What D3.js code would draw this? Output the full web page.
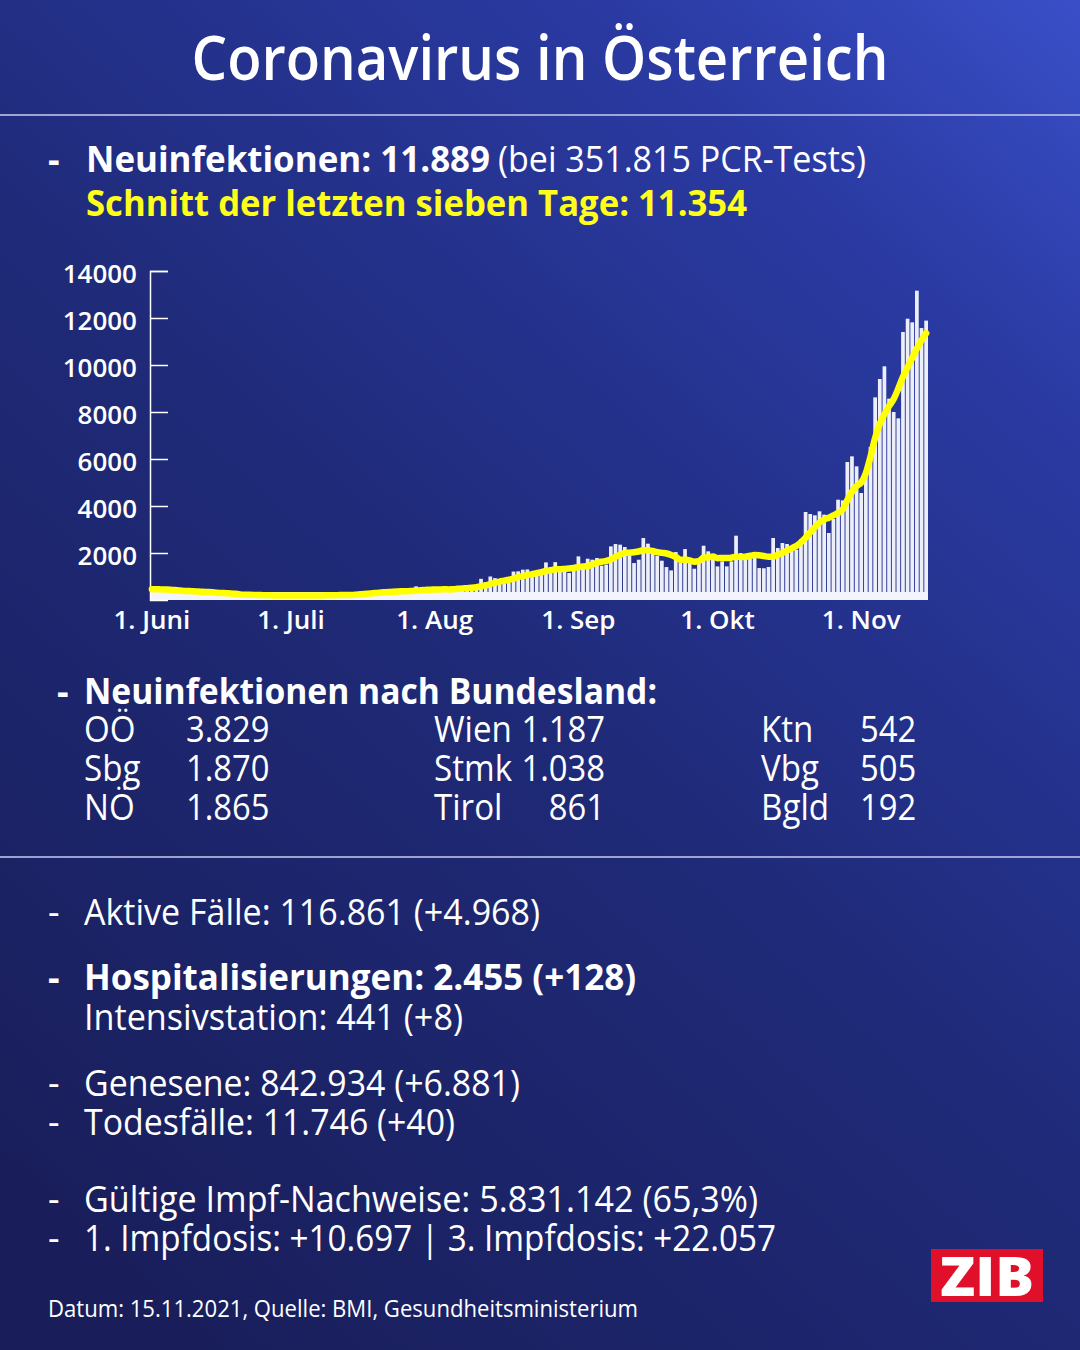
<!DOCTYPE html>
<html>
<head>
<meta charset="utf-8">
<script src="https://cdn.jsdelivr.net/npm/d3@7"></script>
<style>
  body { margin: 0; background: #1d2570; }
  svg { display: block; }
  text { font-family: "Open Sans", sans-serif; fill: #ffffff; }
</style>
</head>
<body>
<div id="chart"></div>
<script>
// Daily new infections, 1 June - 15 November 2021
const casesJune = [430, 470, 440, 420, 400, 330, 290, 330, 380, 360, 350, 330, 300, 250, 240, 280, 260, 240, 210, 190, 170, 180, 220, 210, 200, 190, 180, 170, 180, 210];
const casesJuly = [200, 210, 190, 180, 170, 190, 220, 210, 230, 220, 210, 190, 200, 240, 260, 290, 280, 270, 250, 290, 360, 380, 400, 380, 340, 310, 370, 580, 470, 460, 430];
const casesAug = [390, 330, 380, 520, 560, 600, 580, 490, 440, 570, 900, 760, 1000, 930, 880, 700, 870, 1210, 1220, 1290, 1300, 1080, 1050, 1100, 1600, 1400, 1610, 1290, 1210, 1150, 1290];
const casesSep = [1856, 1545, 1757, 1715, 1787, 1459, 1500, 2281, 2382, 2354, 2255, 1885, 1572, 1715, 2637, 2396, 2141, 1885, 1672, 1402, 1260, 2039, 1600, 2168, 1600, 1330, 1600, 2310, 2070, 1927];
const casesOct = [1430, 1643, 1430, 1643, 2736, 1998, 1955, 1787, 1857, 1360, 1350, 1404, 2638, 2213, 2425, 2383, 2284, 2140, 2596, 3745, 3660, 3603, 3773, 3631, 2851, 3447, 4268, 4239, 5872, 6113, 5686];
const casesNov = [4553, 5430, 6511, 8622, 9404, 9943, 8567, 8000, 7730, 11404, 11970, 11815, 13162, 11572, 11889];

// Seven-day average (yellow line)
const avgJune = [460, 455, 450, 445, 440, 425, 400, 385, 380, 370, 360, 350, 340, 330, 310, 300, 290, 280, 265, 240, 225, 220, 215, 210, 205, 200, 195, 190, 190, 190];
const avgJuly = [190, 191, 191, 191, 191, 193, 194, 196, 199, 203, 207, 210, 211, 214, 225, 240, 260, 280, 295, 310, 325, 340, 355, 365, 370, 375, 385, 405, 420, 430, 440];
const avgAug = [445, 450, 455, 450, 460, 475, 490, 505, 520, 545, 590, 625, 680, 730, 785, 820, 865, 910, 975, 1015, 1065, 1095, 1145, 1180, 1235, 1260, 1305, 1305, 1325, 1340, 1365];
const avgSep = [1400, 1420, 1445, 1505, 1585, 1630, 1660, 1720, 1840, 1925, 2005, 2015, 2035, 2065, 2115, 2115, 2085, 2035, 2005, 1980, 1915, 1830, 1715, 1720, 1680, 1630, 1655, 1805, 1810, 1855];
const avgOct = [1780, 1790, 1790, 1800, 1840, 1830, 1840, 1880, 1910, 1900, 1870, 1840, 1850, 1920, 2000, 2100, 2200, 2300, 2450, 2650, 2880, 3100, 3300, 3420, 3500, 3600, 3700, 3850, 4250, 4600, 4850];
const avgNov = [5000, 5400, 6100, 6900, 7500, 7900, 8250, 8550, 9000, 9500, 9900, 10300, 10700, 11050, 11354];

// Axis ticks
const yTicks = [2000, 4000, 6000, 8000, 10000, 12000, 14000];
const monthLabels = ["1. Juni", "1. Juli", "1. Aug", "1. Sep", "1. Okt", "1. Nov"];
const monthStarts = [new Date(2021, 5, 1), new Date(2021, 6, 1), new Date(2021, 7, 1),
                     new Date(2021, 8, 1), new Date(2021, 9, 1), new Date(2021, 10, 1)];

// Bundesland table
const stateNames = [["OÖ", "Sbg", "NÖ"], ["Wien", "Stmk", "Tirol"], ["Ktn", "Vbg", "Bgld"]];
const stateValues = [["3.829", "1.870", "1.865"], ["1.187", "1.038", "861"], ["542", "505", "192"]];

const days = d3.timeDay.range(new Date(2021, 5, 1), new Date(2021, 10, 16));
const cases = [].concat(casesJune, casesJuly, casesAug, casesSep, casesOct, casesNov);
const avg = [].concat(avgJune, avgJuly, avgAug, avgSep, avgOct, avgNov);
const data = days.map((d, i) => ({ date: d, cases: cases[i], avg: avg[i] }));

const W = 1080, H = 1350;
const svg = d3.select("#chart").append("svg")
    .attr("width", W)
    .attr("height", H);

// Background
const defs = svg.append("defs");
const bg = defs.append("linearGradient")
    .attr("id", "bg")
    .attr("gradientUnits", "userSpaceOnUse")
    .attr("x1", 0).attr("y1", 1200)
    .attr("x2", 1080).attr("y2", 0);
bg.append("stop").attr("offset", 0).attr("stop-color", "#191e5a");
bg.append("stop").attr("offset", 0.45).attr("stop-color", "#1f2a78");
bg.append("stop").attr("offset", 0.8).attr("stop-color", "#2a3aa2");
bg.append("stop").attr("offset", 1).attr("stop-color", "#3a4fc8");
svg.append("rect").attr("width", W).attr("height", H).attr("fill", "url(#bg)");

// Separators
[115, 857].forEach(y => {
    svg.append("line")
        .attr("x1", 0).attr("x2", W)
        .attr("y1", y).attr("y2", y)
        .attr("stroke", "#c9cdf0")
        .attr("stroke-width", 1.5);
});

// Text helper
function label(txt, x, y, opt = {}) {
    const t = svg.append("text")
        .attr("x", x)
        .attr("y", y)
        .attr("font-size", opt.size || 36)
        .attr("font-weight", opt.weight || 400)
        .attr("text-anchor", opt.anchor || "start")
        .style("fill", opt.fill || "#ffffff")
        .text(txt);
    if (opt.width) {
        t.attr("textLength", opt.width).attr("lengthAdjust", "spacingAndGlyphs");
    } else if (opt.squeeze) {
        const w = t.node().getComputedTextLength() * opt.squeeze;
        t.attr("textLength", w).attr("lengthAdjust", "spacingAndGlyphs");
    }
    return t;
}

// Title
label("Coronavirus in Österreich", 540, 80, { size: 62, weight: 600, anchor: "middle", width: 697 });

// Headline numbers
label("-", 48, 172, { weight: 700 });
label("Neuinfektionen: 11.889", 86, 172, { weight: 700, width: 404 });
label("(bei 351.815 PCR-Tests)", 498, 172, { width: 368 });
label("Schnitt der letzten sieben Tage: 11.354", 86, 216, { weight: 700, width: 661, fill: "#ffff1a" });

// Chart
const margin = { left: 150, right: 928, top: 271, bottom: 600 };

const x = d3.scaleBand()
    .domain(days)
    .range([margin.left, margin.right])
    .paddingInner(0.2)
    .paddingOuter(0);

const y = d3.scaleLinear()
    .domain([0, 14000])
    .range([margin.bottom, margin.top]);

// Bars
svg.append("g")
    .selectAll("rect")
    .data(data)
    .enter()
    .append("rect")
    .attr("x", d => x(d.date))
    .attr("y", d => y(d.cases))
    .attr("width", x.bandwidth())
    .attr("height", d => y(0) - y(d.cases))
    .attr("fill", "#eceefa");

// White base band
svg.append("rect")
    .attr("x", margin.left)
    .attr("y", y(0) - 8)
    .attr("width", margin.right - margin.left)
    .attr("height", 8)
    .attr("fill", "#f4f5fc");

// Y axis with inward ticks
const yAxis = svg.append("g")
    .attr("transform", `translate(${margin.left},0)`)
    .call(d3.axisLeft(y).tickValues(yTicks).tickSize(-18).tickPadding(13).tickFormat(d3.format("d")));
yAxis.select(".domain").attr("stroke", "#ffffff").attr("stroke-width", 1.5);
yAxis.selectAll(".tick line").attr("stroke", "#ffffff").attr("stroke-width", 1.5);
yAxis.selectAll(".tick text")
    .attr("font-family", "Open Sans, sans-serif")
    .attr("font-size", 26)
    .attr("font-weight", 600)
    .attr("dy", "0.45em")
    .style("fill", "#ffffff");

// X axis labels
const xAxis = svg.append("g")
    .attr("transform", `translate(0,${margin.bottom})`)
    .call(d3.axisBottom(x).tickValues(monthStarts).tickSize(0).tickPadding(7)
        .tickFormat((d, i) => monthLabels[i]));
xAxis.select(".domain").remove();
xAxis.selectAll(".tick text")
    .attr("font-family", "Open Sans, sans-serif")
    .attr("font-size", 26)
    .attr("font-weight", 600)
    .attr("dy", "0.85em")
    .style("fill", "#ffffff");

// Seven-day average line
const line = d3.line()
    .x(d => x(d.date) + x.bandwidth() / 2)
    .y(d => y(d.avg))
    .curve(d3.curveMonotoneX);

svg.append("path")
    .datum(data)
    .attr("fill", "none")
    .attr("stroke", "#ffff00")
    .attr("stroke-width", 6.5)
    .attr("stroke-linejoin", "round")
    .attr("stroke-linecap", "round")
    .attr("d", line);

// Bundesland block
label("-", 57, 704, { weight: 700 });
label("Neuinfektionen nach Bundesland:", 84, 704, { weight: 700, width: 573 });

const colName = [84, 434, 761];
const colValue = [186, 605, 860];
const colAnchor = ["start", "end", "start"];
const rowY = [742, 781, 820];
stateNames.forEach((col, c) => {
    col.forEach((name, r) => {
        label(name, colName[c], rowY[r], { squeeze: 0.92 });
        label(stateValues[c][r], colValue[c], rowY[r], { anchor: colAnchor[c], squeeze: 0.91 });
    });
});

// Lower block
label("-", 48, 925);
label("Aktive Fälle: 116.861 (+4.968)", 84, 925, { width: 456 });

label("-", 48, 990, { weight: 700 });
label("Hospitalisierungen: 2.455 (+128)", 84, 990, { weight: 700, width: 552 });
label("Intensivstation: 441 (+8)", 84, 1030, { width: 379 });

label("-", 48, 1096);
label("Genesene: 842.934 (+6.881)", 84, 1096, { width: 436 });
label("-", 48, 1135);
label("Todesfälle: 11.746 (+40)", 84, 1135, { width: 371 });

label("-", 48, 1212);
label("Gültige Impf-Nachweise: 5.831.142 (65,3%)", 84, 1212, { width: 674 });
label("-", 48, 1251);
label("1. Impfdosis: +10.697 | 3. Impfdosis: +22.057", 84, 1251, { width: 692 });

label("Datum: 15.11.2021, Quelle: BMI, Gesundheitsministerium", 48, 1317, { size: 23, width: 590 });

// ZIB logo
svg.append("rect")
    .attr("x", 931).attr("y", 1249)
    .attr("width", 112).attr("height", 53)
    .attr("fill", "#e0102a");
label("ZIB", 987, 1296, { size: 54, weight: 800, anchor: "middle", width: 94 });
</script>
</body>
</html>
